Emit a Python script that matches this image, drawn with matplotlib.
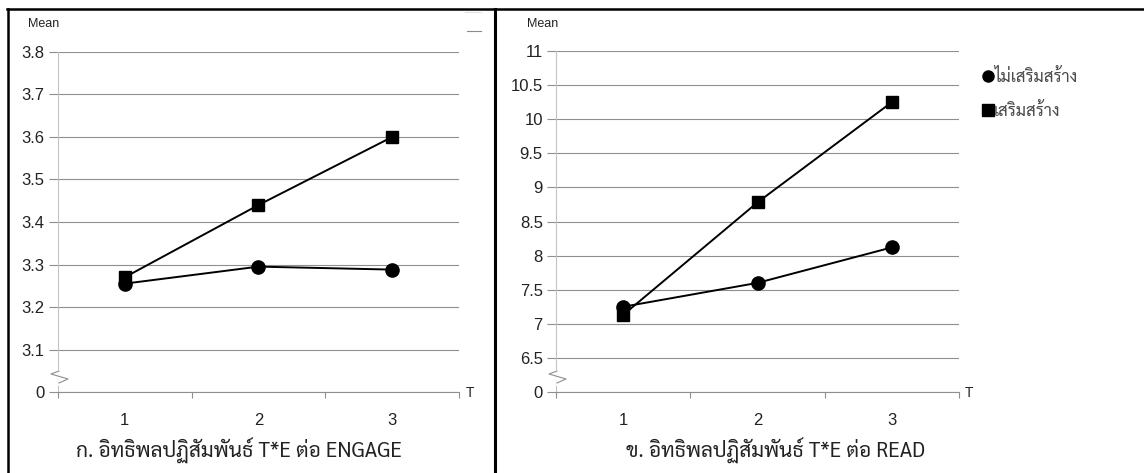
import matplotlib
matplotlib.use("Agg")
import matplotlib.pyplot as plt
from matplotlib.lines import Line2D
from matplotlib.font_manager import FontProperties, findfont

# values
t_labels = ["1", "2", "3"]
engage_no = [3.255, 3.295, 3.288]
engage_yes = [3.27, 3.44, 3.60]
read_no = [7.25, 7.60, 8.12]
read_yes = [7.13, 8.78, 10.25]
engage_ticks = [3.0, 3.1, 3.2, 3.3, 3.4, 3.5, 3.6, 3.7, 3.8]
engage_ticklabels = ["0", "3.1", "3.2", "3.3", "3.4", "3.5", "3.6", "3.7", "3.8"]
read_ticks = [6.0, 6.5, 7.0, 7.5, 8.0, 8.5, 9.0, 9.5, 10.0, 10.5, 11.0]
read_ticklabels = ["0", "6.5", "7", "7.5", "8", "8.5", "9", "9.5", "10", "10.5", "11"]
legend_labels = ["ไม่เสริมสร้าง", "เสริมสร้าง"]
captions = ["ก. อิทธิพลปฏิสัมพันธ์ T*E ต่อ ENGAGE", "ข. อิทธิพลปฏิสัมพันธ์ T*E ต่อ READ"]

try:
    findfont(FontProperties(family="Liberation Sans Narrow"), fallback_to_default=False)
    num_font = "Liberation Sans Narrow"
except Exception:
    num_font = "Liberation Sans"
thai_font = ["Sarabun", "DejaVu Sans"]

W, H = 1144, 473
fig = plt.figure(figsize=(W / 100, H / 100), dpi=100)


def px(x, y):
    return x / W, 1 - y / H


def box(x0, y0, x1, y1):
    return [x0 / W, 1 - y1 / H, (x1 - x0) / W, (y1 - y0) / H]


GRID = "#8f8f8f"
YAX = "#c4c4c4"
TXT = "#222222"


def setup(ax, ticks, ticklabels):
    ax.set_xlim(0.5, 3.5)
    ax.set_ylim(ticks[0], ticks[-1])
    ax.set_yticks(ticks)
    ax.set_yticklabels(ticklabels, fontfamily=num_font, fontsize=12, color=TXT)
    ax.set_xticks([1, 2, 3])
    ax.set_xticklabels(t_labels, fontfamily=num_font, fontsize=12, color=TXT)
    ax.set_xticks([0.5, 1.5, 2.5, 3.5], minor=True)
    ax.tick_params(axis="x", which="major", length=0, pad=15)
    ax.tick_params(axis="x", which="minor", length=4.5, color=GRID, width=0.8)
    ax.tick_params(axis="y", length=6.5, color=GRID, width=0.8, pad=3)
    ax.yaxis.grid(True, color=GRID, linewidth=0.8)
    ax.set_axisbelow(True)
    for s in ["top", "right"]:
        ax.spines[s].set_visible(False)
    ax.spines["left"].set_color(YAX)
    ax.spines["left"].set_linewidth(0.8)
    ax.spines["bottom"].set_color(GRID)
    ax.spines["bottom"].set_linewidth(0.8)


def series(ax, no, yes):
    x = [1, 2, 3]
    ax.plot(x, no, color="black", linewidth=1.4, marker="o", markersize=9.5, zorder=3)
    ax.plot(x, yes, color="black", linewidth=1.4, marker="s", markersize=8.5, zorder=3)


ax1 = fig.add_axes(box(58, 52, 459, 392))
setup(ax1, engage_ticks, engage_ticklabels)
series(ax1, engage_no, engage_yes)

ax2 = fig.add_axes(box(556, 51, 959, 392))
setup(ax2, read_ticks, read_ticklabels)
series(ax2, read_no, read_yes)

# axis break zigzags on the y axes
for x0 in [59, 557]:
    fig.add_artist(Line2D(*zip(px(x0, 371), px(x0, 384)), color="white", linewidth=2, zorder=5))
    pts = [px(x0, 371), px(x0 - 8, 374), px(x0 + 9, 379), px(x0, 383)]
    fig.add_artist(Line2D([p[0] for p in pts], [p[1] for p in pts], color=GRID, linewidth=0.8, zorder=6))

# axis titles
fig.text(*px(28, 24), "Mean", fontfamily="Liberation Sans", fontsize=9, color=TXT, va="center")
fig.text(*px(527, 24), "Mean", fontfamily="Liberation Sans", fontsize=9, color=TXT, va="center")
fig.text(*px(466, 393), "T", fontfamily="Liberation Sans", fontsize=10, color=TXT, va="center")
fig.text(*px(965, 393), "T", fontfamily="Liberation Sans", fontsize=10, color=TXT, va="center")

# legend for the right chart
handles = [Line2D([], [], color="black", marker="o", linestyle="none", markersize=8),
           Line2D([], [], color="black", marker="s", linestyle="none", markersize=8)]
fig.legend(handles, legend_labels, loc="upper left", bbox_to_anchor=px(969, 54),
           frameon=False, handlelength=0.5, handletextpad=0.1, labelspacing=1.0,
           prop=FontProperties(family=thai_font, size=12), labelcolor="#4a4a4a")

# captions
fig.text(*px(239, 451), captions[0], fontfamily=thai_font, fontsize=15, color=TXT, ha="center", va="center")
fig.text(*px(776, 451), captions[1], fontfamily=thai_font, fontsize=15, color=TXT, ha="center", va="center")

# frame lines
fig.add_artist(Line2D(*zip(px(7, 9), px(1144, 9)), color="black", linewidth=1.8))
fig.add_artist(Line2D(*zip(px(8, 9), px(8, 473)), color="black", linewidth=1.8))
fig.add_artist(Line2D(*zip(px(494.5, 9), px(494.5, 473)), color="black", linewidth=2.2))
fig.add_artist(Line2D(*zip(px(465, 12), px(481, 12)), color="#e2e2e2", linewidth=0.8))
fig.add_artist(Line2D(*zip(px(467, 31), px(481, 31)), color="#8a8a8a", linewidth=0.8))

fig.savefig("out.png", dpi=100, facecolor="white")
